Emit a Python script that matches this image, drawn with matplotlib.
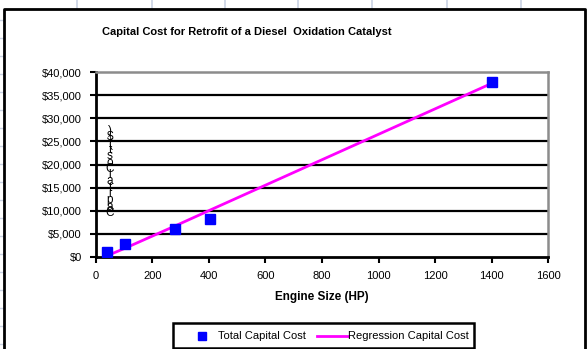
import matplotlib
matplotlib.use("Agg")
import matplotlib.pyplot as plt
from matplotlib.lines import Line2D
from matplotlib.patches import Rectangle
from matplotlib.ticker import FuncFormatter

plt.rcParams['font.family'] = ['Liberation Sans', 'DejaVu Sans']

# Engine size (HP) vs. total capital cost ($)
engine_hp = [40, 104, 280, 404, 1400]
total_cost = [1085, 2690, 5940, 8110, 37960]
# Regression line evaluated at the same engine sizes
regression_cost = [200, 1850, 6650, 10100, 37600]

title = "Capital Cost for Retrofit of a Diesel  Oxidation Catalyst"
x_label = "Engine Size (HP)"
y_label = "Capital Cost ($)"
x_ticks = [0, 200, 400, 600, 800, 1000, 1200, 1400, 1600]
y_ticks = [0, 5000, 10000, 15000, 20000, 25000, 30000, 35000, 40000]

W, H = 588, 349
fig = plt.figure(figsize=(W / 100, H / 100), dpi=100)
fig.patch.set_facecolor('white')


def fx(px):
    return px / W


def fy(py):
    return 1 - py / H


# spreadsheet cell lines around the chart object
cell_col = '#c9d2e3'
for x in [77, 152, 225, 298, 372, 447, 521]:
    fig.add_artist(Line2D([fx(x), fx(x)], [fy(0), fy(8)], color=cell_col, lw=1.2))
for y in [20, 38, 56, 74, 92, 110, 128, 146, 164, 182, 200, 218, 236, 254, 272, 290, 308, 326, 344]:
    fig.add_artist(Line2D([fx(0), fx(3)], [fy(y), fy(y)], color=cell_col, lw=1.0))

# chart frame
fig.add_artist(Line2D([fx(4), fx(4), fx(585), fx(585)],
                      [fy(349), fy(9), fy(9), fy(349)], color='black', lw=2))

ax = fig.add_axes([fx(95.7), fy(256.7), fx(548.3) - fx(95.7), fy(72.3) - fy(256.7)])
ax.set_xlim(0, 1600)
ax.set_ylim(0, 40000)

for v in y_ticks[1:-1]:
    ax.axhline(v, color='black', lw=1.6, zorder=1)

ax.plot(engine_hp, regression_cost, color='#ff00ff', lw=2, zorder=2)
ax.plot(engine_hp, total_cost, ls='none', marker='s', ms=7, color='#0000ff',
        markeredgecolor='#0000ff', zorder=3)

ax.set_xticks(x_ticks)
ax.set_yticks(y_ticks)
ax.yaxis.set_major_formatter(FuncFormatter(lambda v, p: "${:,.0f}".format(v)))
ax.tick_params(axis='both', direction='out', length=4, width=1.5, labelsize=8,
               colors='black', pad=6)

for s in ['left', 'bottom']:
    ax.spines[s].set_color('black')
    ax.spines[s].set_linewidth(2)
for s in ['top', 'right']:
    ax.spines[s].set_color('#8c8c8c')
    ax.spines[s].set_linewidth(1.8)

fig.text(fx(247), fy(32), title, fontsize=8, fontweight='bold', ha='center', va='center')
fig.text(fx(322), fy(297), x_label, fontsize=8.5, fontweight='bold', ha='center', va='center')

# y-axis title stacked letter by letter, bottom to top, squeezed together
chars = [c for c in y_label if c != ' ']
top, bottom = 131, 213
step = (bottom - top) / (len(chars) - 1)
for i, c in enumerate(reversed(chars)):
    fig.text(fx(110), fy(top + i * step), c, fontsize=8.5, ha='center', va='center')

# legend box
fig.add_artist(Rectangle((fx(173), fy(348)), fx(474) - fx(173), fy(323) - fy(348),
                         fill=False, edgecolor='black', lw=1.8))
fig.add_artist(Line2D([fx(202)], [fy(336)], ls='none', marker='s', ms=6, color='#0000ff'))
fig.text(fx(218), fy(336), "Total Capital Cost", fontsize=8, ha='left', va='center')
fig.add_artist(Line2D([fx(317), fx(348)], [fy(336), fy(336)], color='#ff00ff', lw=2))
fig.text(fx(348), fy(336), "Regression Capital Cost", fontsize=8, ha='left', va='center')

fig.savefig('out.png', dpi=100)
